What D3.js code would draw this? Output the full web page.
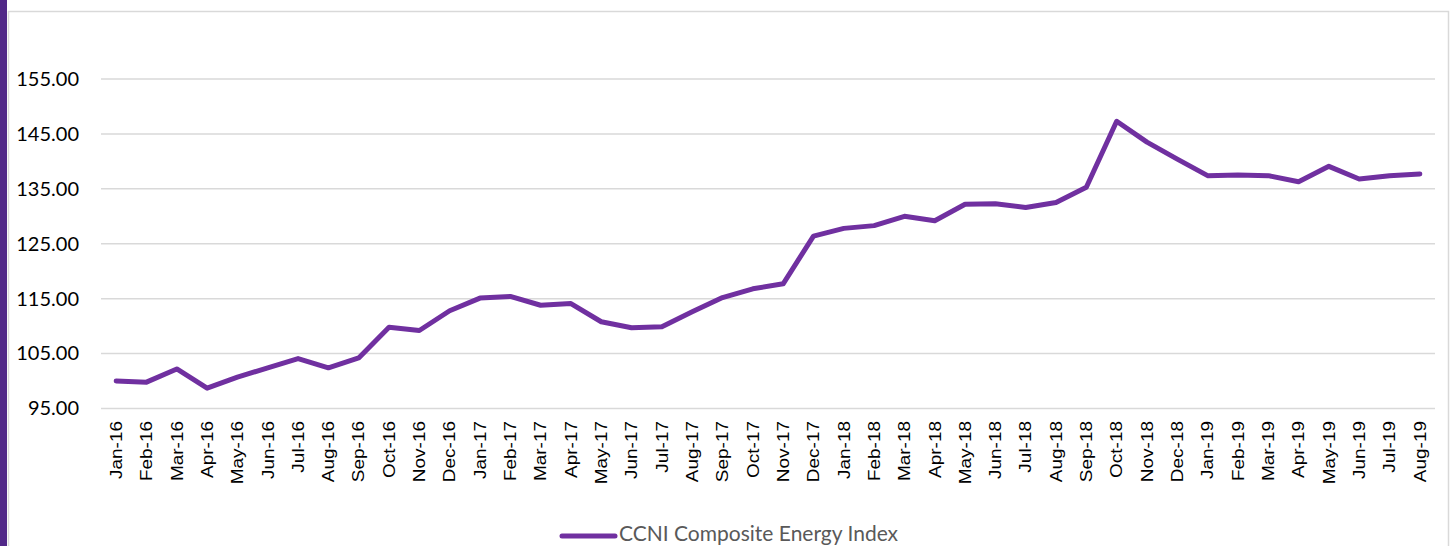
<!DOCTYPE html>
<html>
<head>
<meta charset="utf-8">
<title>CCNI Composite Energy Index</title>
<style>
body { margin: 0; background: #fff; }
svg { display: block; }
.grid line { stroke: #d9d9d9; stroke-width: 1.5px; }
.ylab text { font-family: Lato, 'Open Sans', sans-serif; fill: #000; }
.xlab text { font-family: 'Liberation Sans', Arial, sans-serif; fill: #000; }
.legend-label { font-family: Lato, 'Open Sans', sans-serif; font-size: 21px; fill: #595959; }
</style>
</head>
<body>
<svg width="1453" height="546"></svg>
<script src="https://d3js.org/d3.v7.min.js"></script>
<script>
var months = ["Jan-16","Feb-16","Mar-16","Apr-16","May-16","Jun-16","Jul-16","Aug-16","Sep-16","Oct-16","Nov-16","Dec-16",
  "Jan-17","Feb-17","Mar-17","Apr-17","May-17","Jun-17","Jul-17","Aug-17","Sep-17","Oct-17","Nov-17","Dec-17",
  "Jan-18","Feb-18","Mar-18","Apr-18","May-18","Jun-18","Jul-18","Aug-18","Sep-18","Oct-18","Nov-18","Dec-18",
  "Jan-19","Feb-19","Mar-19","Apr-19","May-19","Jun-19","Jul-19","Aug-19"];
var ccni = [100.0, 99.8, 102.2, 98.7, 100.7, 102.4, 104.1, 102.4, 104.2, 109.8, 109.2, 112.8,
  115.1, 115.4, 113.8, 114.1, 110.8, 109.7, 109.9, 112.6, 115.2, 116.8, 117.7, 126.4,
  127.8, 128.3, 130.0, 129.2, 132.2, 132.3, 131.6, 132.5, 135.3, 147.3, 143.5, 140.4,
  137.4, 137.5, 137.4, 136.3, 139.1, 136.8, 137.4, 137.7];
var yTicks = [95, 105, 115, 125, 135, 145, 155];
var seriesName = "CCNI Composite Energy Index";

var svg = d3.select("svg"),
    width = +svg.attr("width"),
    height = +svg.attr("height");

// side bar + chart frame
svg.append("rect").attr("x", 0).attr("y", 0).attr("width", 7).attr("height", height).attr("fill", "#512888");
svg.append("rect").attr("x", 8.5).attr("y", 11.5).attr("width", 1440).attr("height", 560)
  .attr("fill", "none").attr("stroke", "#d9d9d9").attr("stroke-width", 1.5);

var x = d3.scaleBand().domain(months).range([101, 1435]);
var y = d3.scaleLinear().domain([95, 155]).range([408.5, 79]);

// gridlines
svg.append("g").attr("class", "grid")
  .selectAll("line").data(yTicks).enter().append("line")
  .attr("x1", 101).attr("x2", 1435)
  .attr("y1", d => y(d)).attr("y2", d => y(d));

// y axis labels
var yAxis = d3.axisLeft(y).tickValues(yTicks).tickFormat(d3.format(".2f")).tickSize(0).tickPadding(0);
svg.append("g").attr("class", "ylab")
  .attr("transform", "translate(79,0)")
  .call(yAxis)
  .call(g => g.select(".domain").remove())
  .selectAll("text").attr("font-size", 20).attr("fill", "#000");

// x axis labels, rotated
var xAxis = d3.axisBottom(x).tickSize(0).tickPadding(0);
var xg = svg.append("g").attr("class", "xlab")
  .attr("transform", "translate(0,421)")
  .call(xAxis);
xg.select(".domain").remove();
xg.selectAll("text")
  .attr("font-size", 16.5).attr("fill", "#000")
  .attr("transform", "rotate(-90) scale(1.15,1)")
  .attr("x", 0).attr("y", 0).attr("dy", "0.35em")
  .style("text-anchor", "end");

// line
var line = d3.line()
  .x((d, i) => x(months[i]) + x.bandwidth() / 2)
  .y(d => y(d));
svg.append("path").datum(ccni)
  .attr("d", line)
  .attr("fill", "none")
  .attr("stroke", "#7030a0")
  .attr("stroke-width", 5)
  .attr("stroke-linejoin", "round")
  .attr("stroke-linecap", "round");

// legend
var legend = svg.append("g").attr("transform", "translate(562,534)");
legend.append("line").attr("x1", 0).attr("x2", 53).attr("y1", 2).attr("y2", 2)
  .attr("stroke", "#7030a0").attr("stroke-width", 5).attr("stroke-linecap", "round");
legend.append("text").attr("class", "legend-label").attr("x", 57).attr("y", 0).attr("dy", "0.35em").text(seriesName);
</script>
</body>
</html>
